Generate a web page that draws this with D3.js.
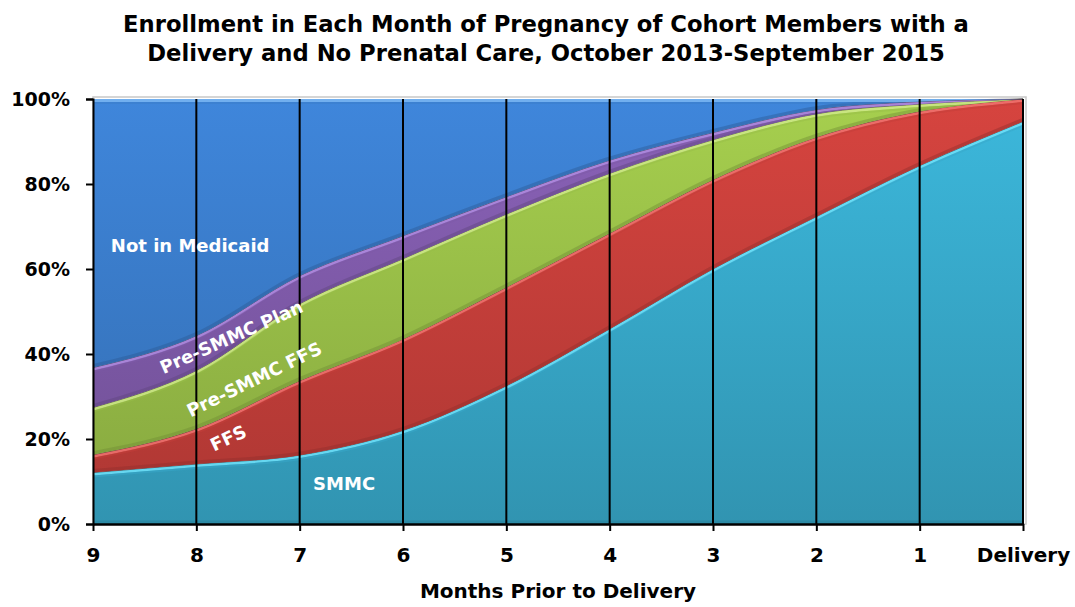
<!DOCTYPE html>
<html>
<head>
<meta charset="utf-8">
<script src="https://cdn.jsdelivr.net/npm/d3@7"></script>
<style>
  body { margin: 0; background: #fff; }
  svg { display: block; }
</style>
</head>
<body>
<svg id="chart"></svg>
<script>
const months = ['9', '8', '7', '6', '5', '4', '3', '2', '1', 'Delivery'];
const smmc = [12.1, 14.1, 16.2, 22.0, 32.5, 45.9, 60.0, 72.3, 84.3, 94.7];
const ffs = [4.2, 8.3, 17.5, 21.5, 23.2, 22.5, 21.0, 18.7, 12.8, 5.3];
const preSmmcFfs = [11.1, 13.7, 18.1, 18.9, 17.2, 14.1, 9.4, 5.5, 1.7, 0];
const preSmmcPlan = [9.4, 8.2, 6.6, 5.4, 4.1, 3.1, 1.7, 1.0, 0.6, 0];
const notInMedicaid = [63.2, 55.7, 41.6, 32.2, 23.0, 14.4, 7.9, 2.5, 0.6, 0];
const yTicks = [0, 20, 40, 60, 80, 100];

const keys = ['smmc', 'ffs', 'preSmmcFfs', 'preSmmcPlan', 'notInMedicaid'];
const seriesValues = { smmc, ffs, preSmmcFfs, preSmmcPlan, notInMedicaid };
const colors = {
  smmc: '#37a8c9',
  ffs: '#c43e3a',
  preSmmcFfs: '#98bd47',
  preSmmcPlan: '#7e5aa8',
  notInMedicaid: '#3a7bc8'
};
const highlights = {
  smmc: '#70e2fa',
  ffs: '#f07370',
  preSmmcFfs: '#cfe98a',
  preSmmcPlan: '#b08ce0',
  notInMedicaid: '#7ab6f2'
};

const width = 1075;
const height = 607;
const margin = { top: 99, right: 52, bottom: 83, left: 93 };
const font = '"DejaVu Sans", Verdana, sans-serif';

const table = months.map((m, i) => {
  const row = { month: m };
  keys.forEach(k => { row[k] = seriesValues[k][i]; });
  return row;
});

const series = d3.stack().keys(keys)(table);

const x = d3.scalePoint()
  .domain(months)
  .range([margin.left, width - margin.right]);

const xi = d3.scaleLinear()
  .domain([0, months.length - 1])
  .range(x.range());

const y = d3.scaleLinear()
  .domain([0, 100])
  .range([height - margin.bottom, margin.top]);

const svg = d3.select('#chart')
  .attr('width', width)
  .attr('height', height)
  .attr('viewBox', [0, 0, width, height]);

const defs = svg.append('defs');

keys.forEach(k => {
  const c = d3.color(colors[k]);
  const g = defs.append('linearGradient')
    .attr('id', 'grad-' + k)
    .attr('gradientUnits', 'userSpaceOnUse')
    .attr('x1', 0).attr('x2', 0)
    .attr('y1', y(100)).attr('y2', y(0));
  g.append('stop').attr('offset', 0).attr('stop-color', c.brighter(0.25));
  g.append('stop').attr('offset', 1).attr('stop-color', c.darker(0.35));
});

const curve = d3.curveMonotoneX;

const area = d3.area()
  .curve(curve)
  .x(d => x(d.data.month))
  .y0(d => y(d[0]))
  .y1(d => y(d[1]));

const topLine = d3.line()
  .curve(curve)
  .x(d => x(d.data.month))
  .y(d => y(d[1]));

const bottomLine = d3.line()
  .curve(curve)
  .x(d => x(d.data.month))
  .y(d => y(d[0]));

// light frame behind the plot
svg.append('rect')
  .attr('x', margin.left)
  .attr('y', margin.top - 2)
  .attr('width', width - margin.right - margin.left + 3)
  .attr('height', height - margin.bottom - margin.top + 2)
  .attr('fill', 'none')
  .attr('stroke', '#c8c8c8')
  .attr('stroke-width', 1.5);

const layer = svg.append('g')
  .selectAll('g')
  .data(series)
  .join('g');

layer.append('clipPath')
  .attr('id', d => 'clip-' + d.key)
  .append('path')
  .attr('d', area);

layer.append('path')
  .attr('fill', d => `url(#grad-${d.key})`)
  .attr('d', area);

const bevel = layer.append('g')
  .attr('clip-path', d => `url(#clip-${d.key})`);

bevel.append('path')
  .attr('fill', 'none')
  .attr('stroke', d => d3.color(colors[d.key]).darker(0.8))
  .attr('stroke-opacity', 0.45)
  .attr('stroke-width', 7)
  .attr('d', bottomLine);

bevel.append('path')
  .attr('fill', 'none')
  .attr('stroke', d => highlights[d.key])
  .attr('stroke-opacity', 0.85)
  .attr('stroke-width', 6)
  .attr('d', topLine);

bevel.append('path')
  .attr('fill', 'none')
  .attr('stroke', d => colors[d.key])
  .attr('stroke-opacity', 0.5)
  .attr('stroke-width', 2)
  .attr('transform', 'translate(0,4)')
  .attr('d', topLine);

layer.filter(d => d.key !== 'notInMedicaid')
  .append('path')
  .attr('fill', 'none')
  .attr('stroke', '#2a2a2a')
  .attr('stroke-opacity', 0.55)
  .attr('stroke-width', 1)
  .attr('d', topLine);

// vertical grid lines at each month
svg.append('g')
  .selectAll('line')
  .data(months.slice(1))
  .join('line')
  .attr('x1', d => x(d))
  .attr('x2', d => x(d))
  .attr('y1', y(0))
  .attr('y2', y(100))
  .attr('stroke', '#000')
  .attr('stroke-width', 2);

const yAxis = g => g
  .attr('transform', `translate(${margin.left},0)`)
  .call(d3.axisLeft(y).tickValues(yTicks).tickFormat(d => d + '%').tickSize(7).tickPadding(16))
  .call(g => g.select('.domain').attr('stroke-width', 2))
  .call(g => g.selectAll('.tick line').attr('stroke-width', 2))
  .call(g => g.selectAll('.tick text')
    .attr('font-family', font)
    .attr('font-weight', 'bold')
    .attr('font-size', 19)
    .attr('fill', '#000'));

const xAxis = g => g
  .attr('transform', `translate(0,${height - margin.bottom})`)
  .call(d3.axisBottom(x).tickSize(7).tickPadding(17).tickSizeOuter(0))
  .call(g => g.select('.domain').attr('stroke-width', 2.5))
  .call(g => g.selectAll('.tick line').attr('stroke-width', 2))
  .call(g => g.selectAll('.tick text')
    .attr('font-family', font)
    .attr('font-weight', 'bold')
    .attr('font-size', 20)
    .attr('fill', '#000'));

svg.append('g').call(yAxis);
svg.append('g').call(xAxis);

const title = svg.append('text')
  .attr('font-family', font)
  .attr('font-weight', 'bold')
  .attr('font-size', 22.7)
  .attr('text-anchor', 'middle')
  .attr('fill', '#000');

title.append('tspan')
  .attr('x', 546)
  .attr('y', 32)
  .text('Enrollment in Each Month of Pregnancy of Cohort Members with a');

title.append('tspan')
  .attr('x', 546)
  .attr('y', 61)
  .text('Delivery and No Prenatal Care, October 2013-September 2015');

svg.append('text')
  .attr('x', (x.range()[0] + x.range()[1]) / 2)
  .attr('y', 598)
  .attr('font-family', font)
  .attr('font-weight', 'bold')
  .attr('font-size', 20)
  .attr('text-anchor', 'middle')
  .attr('fill', '#000')
  .text('Months Prior to Delivery');

const labels = [
  { text: 'Not in Medicaid', at: 0.94, v: 65.6, angle: 0 },
  { text: 'Pre-SMMC Plan', at: 1.34, v: 44.0, angle: -24 },
  { text: 'Pre-SMMC FFS', at: 1.56, v: 34.0, angle: -26 },
  { text: 'FFS', at: 1.31, v: 20.2, angle: -25 },
  { text: 'SMMC', at: 2.43, v: 9.4, angle: 0 }
];

svg.append('g')
  .attr('font-family', font)
  .attr('font-weight', 'bold')
  .attr('font-size', 18)
  .attr('fill', '#fff')
  .attr('text-anchor', 'middle')
  .selectAll('text')
  .data(labels)
  .join('text')
  .attr('transform', d => `translate(${xi(d.at)},${y(d.v)}) rotate(${d.angle})`)
  .attr('dy', '0.35em')
  .text(d => d.text);
</script>
</body>
</html>
